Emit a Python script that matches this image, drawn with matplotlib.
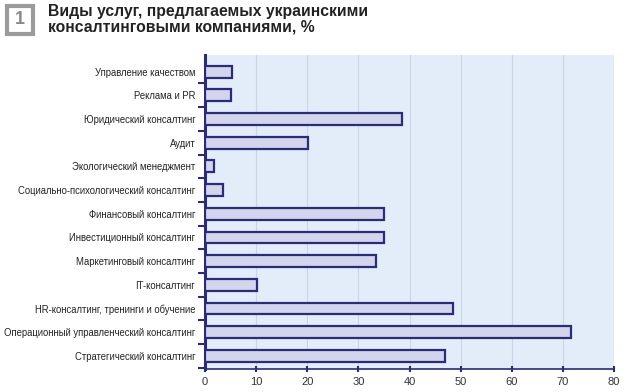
import numpy as np
import matplotlib.pyplot as plt
from matplotlib.patches import Rectangle

# ---------------------------------------------------------------------
# Data
# ---------------------------------------------------------------------

categories = [
    "Управление качеством",
    "Реклама и PR",
    "Юридический консалтинг",
    "Аудит",
    "Экологический менеджмент",
    "Социально-психологический консалтинг",
    "Финансовый консалтинг",
    "Инвестиционный консалтинг",
    "Маркетинговый консалтинг",
    "IT-консалтинг",
    "HR-консалтинг, тренинги и обучение",
    "Операционный управленческий консалтинг",
    "Стратегический консалтинг",
]
values = [5.3, 5.1, 38.5, 20.1, 1.8, 3.5, 35.0, 35.0, 33.4, 10.2, 48.5, 71.6, 47.0]
x_ticks = [0, 10, 20, 30, 40, 50, 60, 70, 80]

title = "Виды услуг, предлагаемых украинскими\nконсалтинговыми компаниями, %"

NAVY = "#2b2b7c"
FILL = "#d3d5ea"
BG = "#e3edfa"
GRID = "#c9d6e6"

plt.rcParams["font.family"] = ["Liberation Sans", "DejaVu Sans"]

fig = plt.figure(figsize=(6.26, 3.92), dpi=100)
ax = fig.add_axes([205 / 626, (392 - 369) / 392, 409 / 626, (369 - 55) / 392])
ax.set_facecolor(BG)

y = np.arange(len(categories))
ax.barh(y, values, height=0.5, color=FILL, edgecolor=NAVY, linewidth=1.6, zorder=3)

ax.set_xlim(0, 80)
ax.set_ylim(len(categories) - 0.45, -0.7)
ax.set_xticks(x_ticks)
ax.set_xticklabels([str(t) for t in x_ticks], fontsize=8, color="#333333")
ax.set_yticks(y)
ax.set_yticklabels(categories, fontsize=6.85, color="#222222")
ax.tick_params(axis="y", length=0, pad=7)
ax.tick_params(axis="x", length=4, width=1.5, color=NAVY, direction="inout", pad=4)

# small marks between categories on the left axis
ax.set_yticks(np.arange(len(categories)) + 0.5, minor=True)
ax.tick_params(axis="y", which="minor", length=5, width=1.5, color=NAVY, direction="out")

ax.grid(axis="x", color=GRID, linewidth=0.8, zorder=0)
for side in ["top", "right"]:
    ax.spines[side].set_visible(False)
ax.spines["left"].set_color(NAVY)
ax.spines["left"].set_linewidth(2.2)
ax.spines["bottom"].set_color(NAVY)
ax.spines["bottom"].set_linewidth(1.2)

# title block
fig.patches.append(Rectangle((7 / 626, 1 - 34 / 392), 26 / 626, 28 / 392,
                             transform=fig.transFigure, facecolor="white",
                             edgecolor="#9a9a9a", linewidth=3))
fig.text(20 / 626, 1 - 20 / 392, "1", fontsize=13, fontweight="bold",
         color="#8a8a8a", ha="center", va="center")
fig.text(48 / 626, 1 - 4 / 392, title, fontsize=11.3, fontweight="bold",
         color="#222222", ha="left", va="top", linespacing=1.0)

fig.savefig("out.png", dpi=100)
